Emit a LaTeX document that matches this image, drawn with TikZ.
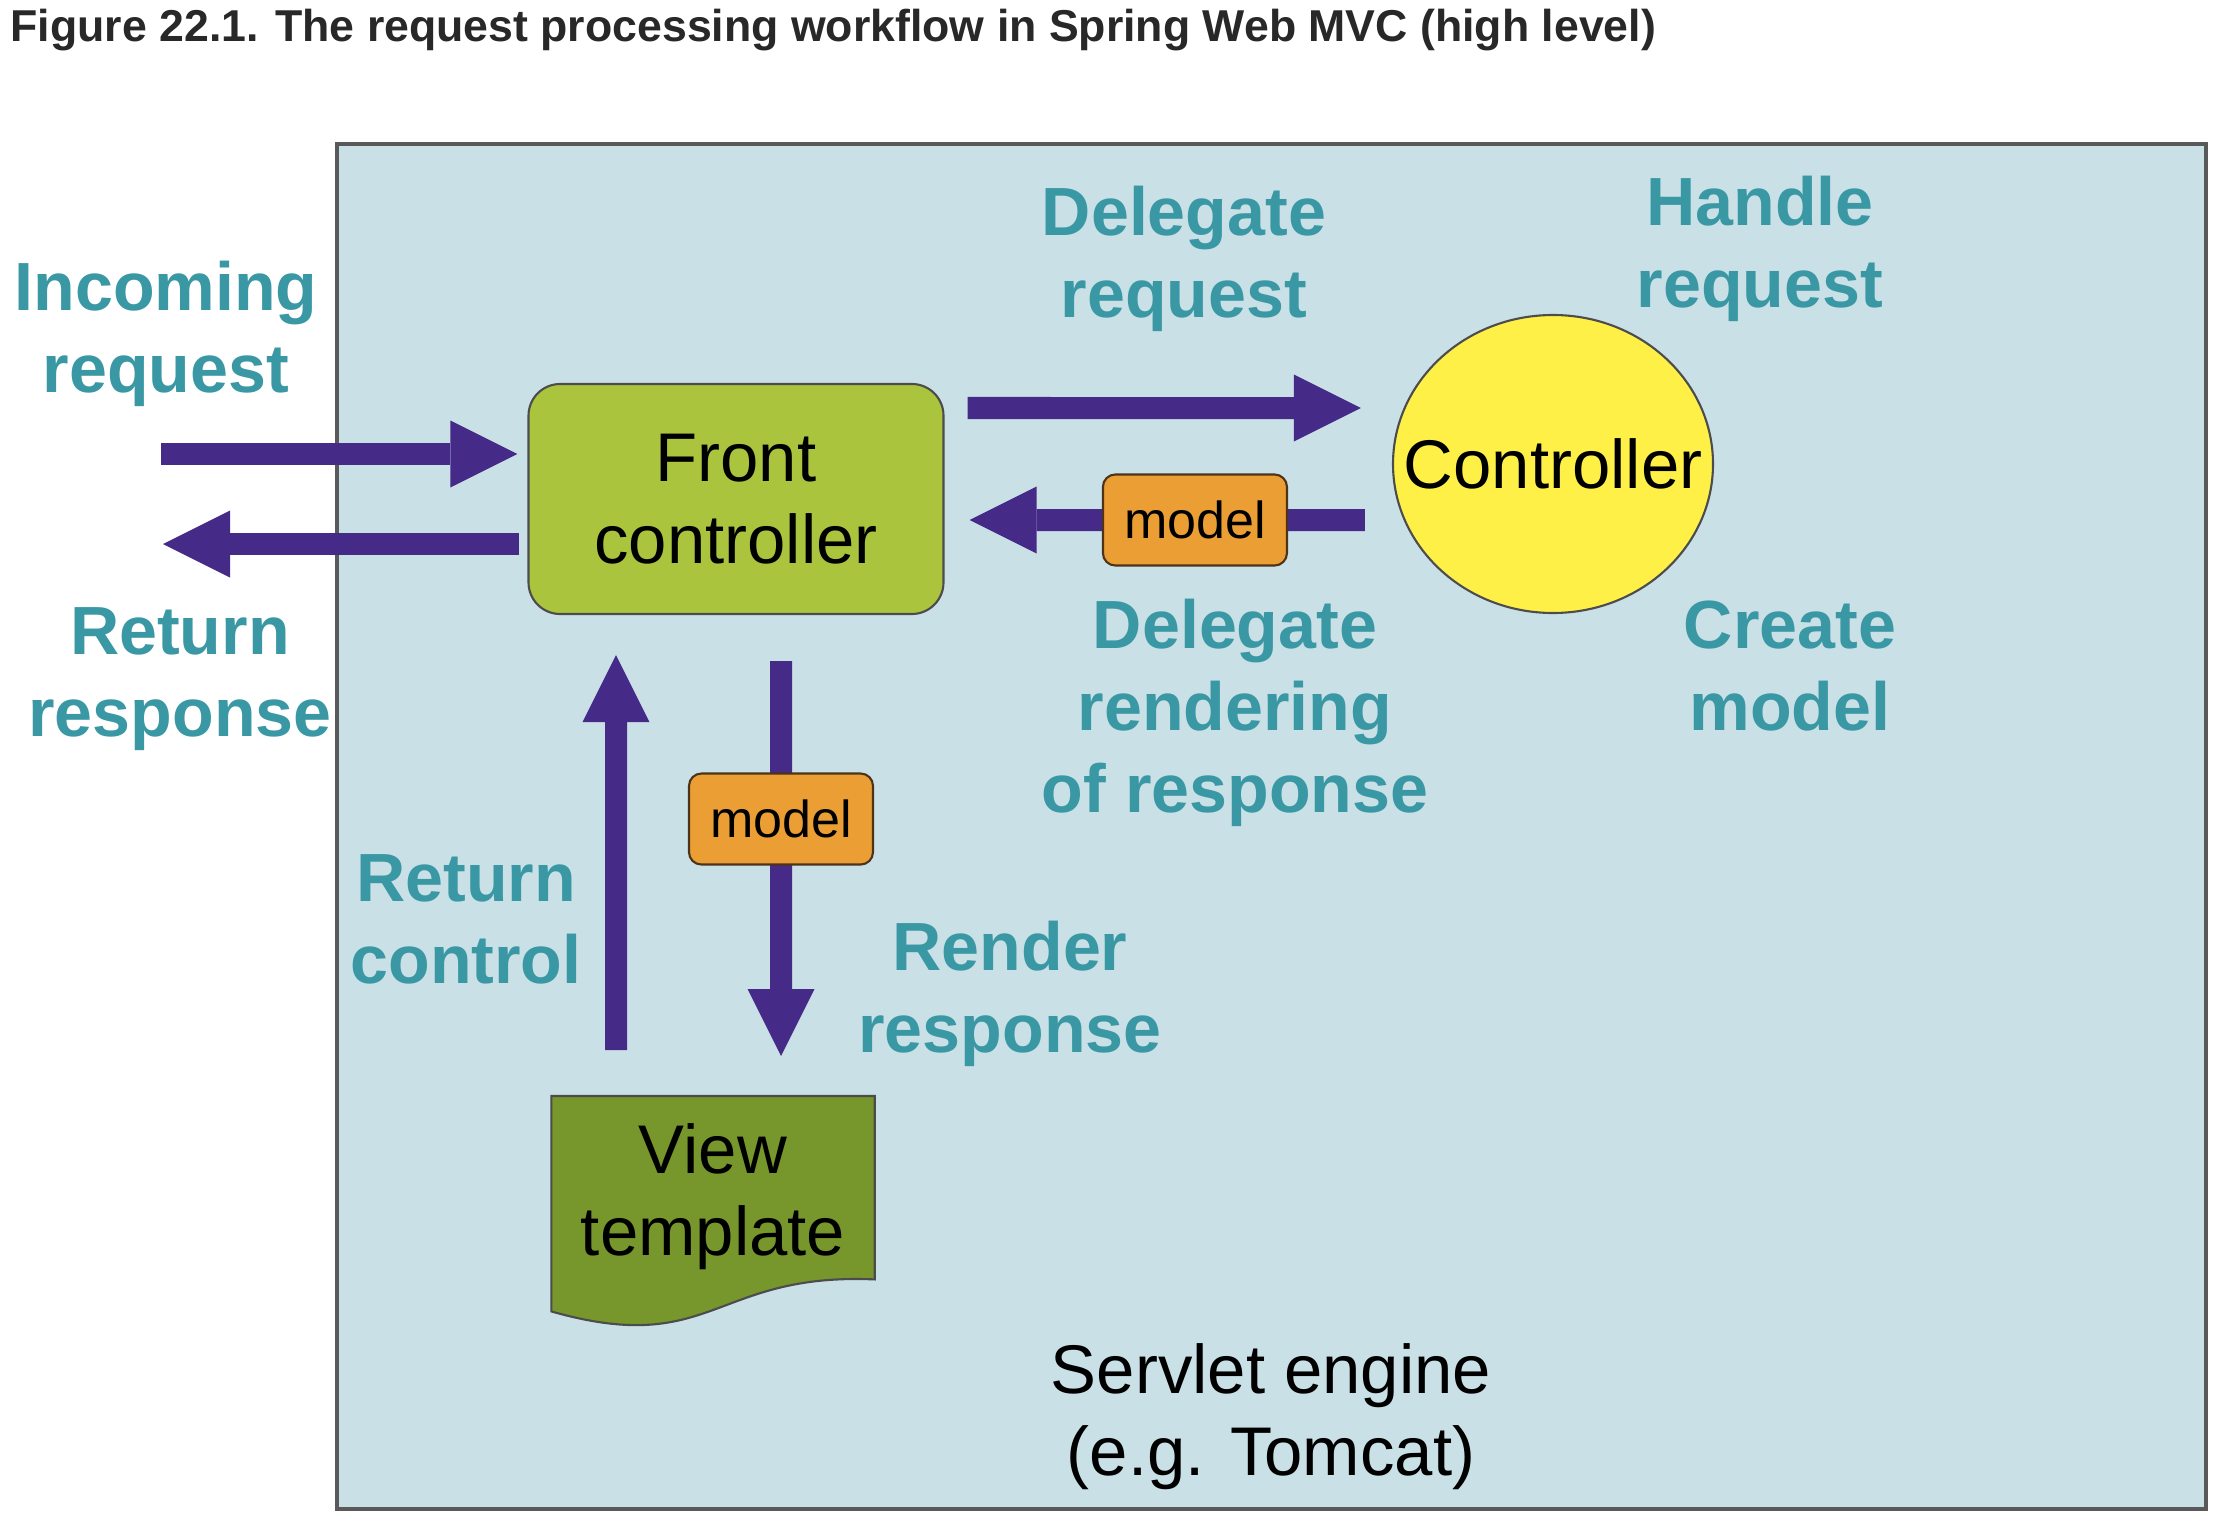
\documentclass[tikz,border=0pt]{standalone}
\usepackage{fontspec}
\setmainfont{Liberation Sans}
\usepackage{xcolor}
\usetikzlibrary{arrows.meta,positioning,shapes.geometric,backgrounds}
\definecolor{enginebg}{RGB}{201,224,230}
\definecolor{flowpurple}{RGB}{70,42,136}
\definecolor{notetext}{RGB}{58,152,165}
\definecolor{fcgreen}{RGB}{170,196,62}
\definecolor{ctrlyellow}{RGB}{255,240,72}
\definecolor{modelorange}{RGB}{234,158,52}
\definecolor{viewgreen}{RGB}{119,150,43}
\definecolor{titlegray}{RGB}{40,40,40}
\newcommand{\slidefont}{\fontsize{19.6}{23.3}\selectfont}
\tikzset{
  engbox/.style={draw=black!65,fill=enginebg,line width=0.035cm},
  fcbox/.style={draw=black!70,fill=fcgreen,rounded corners=9pt,align=center,font=\slidefont,minimum width=4.15cm,minimum height=2.3cm,line width=0.6pt},
  ctrlbox/.style={ellipse,draw=black!70,fill=ctrlyellow,minimum width=3.2cm,minimum height=2.98cm,inner sep=0pt,line width=0.6pt},
  modelbox/.style={draw=black!60!brown,fill=modelorange,rounded corners=3.5pt,font=\fontsize{14.8}{17}\selectfont,minimum width=1.84cm,minimum height=0.91cm,inner sep=0pt,line width=0.6pt},
  viewbox/.style={align=center,font=\slidefont,minimum width=3.22cm,minimum height=2.0cm,inner sep=0pt},
  tmpl/.style={draw=black!70,fill=viewgreen,line width=0.6pt},
  lbl/.style={text=notetext,font=\fontsize{19.4}{23.3}\selectfont\bfseries,align=center},
  arr/.style={draw=flowpurple,line width=0.22cm,-{Triangle[width=0.67cm,length=0.67cm,line width=0pt]}},
}

\begin{document}
\begin{tikzpicture}
\useasboundingbox (0,0) rectangle (22.2,15.2);
\begin{scope}[on background layer]
\fill[white] (0,0) rectangle (22.2,15.2);
\node[engbox,minimum width=18.69cm,minimum height=13.65cm,inner sep=0pt] (engine) at (12.715,6.935) {};
\end{scope}
\node[anchor=west,inner sep=0pt,text=titlegray,font=\fontsize{12.7}{15}\selectfont\bfseries] (title) at (0.10,14.9) {Figure 22.1. The request processing workflow in Spring Web MVC (high level)};
\node[align=center,font=\slidefont] (englbl) at (12.71,1.03) {Servlet engine\\(e.g. Tomcat)};

\node[fcbox] (fc) at (7.36,10.21) {Front\\controller};
\node[ctrlbox,label={[font=\slidefont]center:Controller}] (ctrl) at (15.53,10.56) {};
\node[viewbox,anchor=north] (vt) at (7.13,4.24) {View\\template};
\begin{scope}[on background layer]
\draw[tmpl] (vt.north west) -- (vt.north east) -- ([yshift=1.8mm]vt.south east)
  .. controls ([yshift=2.5mm]vt.south) and ([yshift=-6mm]vt.south) .. ([yshift=-1.4mm]vt.south west) -- cycle;
\end{scope}

% request in / response out
\coordinate (reqin) at (1.61,10.66);
\coordinate (respout) at (1.63,9.76);
\draw[arr] (reqin) -- ([xshift=-1mm]reqin -| fc.west);
\draw[arr] ([xshift=-0.8mm]respout -| fc.west) -- (respout);

% front controller <-> controller
\draw[arr] ([xshift=2.3mm,yshift=9.1mm]fc.east) -- ([xshift=-3.1mm,yshift=5.6mm]ctrl.west);
\draw[arr] ([xshift=-2.7mm,yshift=-5.6mm]ctrl.west) -- ([xshift=2.5mm,yshift=-2.1mm]fc.east)
  node[modelbox,pos=0.43] (m1) {model};

% front controller <-> view
\draw[arr] ([xshift=-9.7mm,yshift=4.6mm]vt.north) -- ([xshift=-12mm,yshift=-4mm]fc.south);
\draw[arr] ([xshift=4.5mm,yshift=-4.6mm]fc.south) -- ([xshift=6.8mm,yshift=4mm]vt.north)
  node[modelbox,pos=0.40] (m2) {model};

\node[lbl] (inlbl) at (1.66,11.86) {Incoming\\request};
\node[lbl] (outlbl) at (1.80,8.405) {Return\\response};
\node[lbl] (dellbl) at (11.84,12.61) {Delegate\\request};
\node[lbl] (handlbl) at (17.60,12.71) {Handle\\request};
\node[lbl] (rendlbl) at (12.35,8.075) {Delegate\\rendering\\of response};
\node[lbl] (modlbl) at (17.90,8.54) {Create\\model};
\node[lbl] (retlbl) at (4.66,6.005) {Return\\control};
\node[lbl] (rrlbl) at (10.10,5.265) {Render\\response};
\end{tikzpicture}
\end{document}
